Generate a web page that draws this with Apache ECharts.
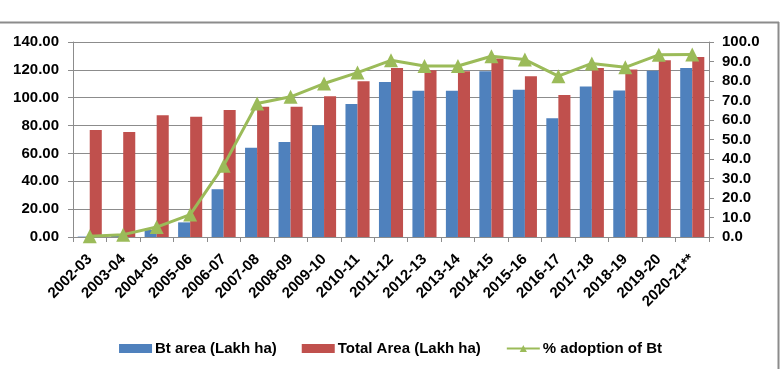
<!DOCTYPE html>
<html>
<head>
<meta charset="utf-8">
<script src="https://cdn.jsdelivr.net/npm/echarts@6/dist/echarts.min.js"></script>
<style>html,body{margin:0;padding:0;background:#fff;}#c{width:781px;height:369px;}</style>
</head>
<body>
<div id="c"></div>
<script>
const categories = ['2002-03','2003-04','2004-05','2005-06','2006-07','2007-08','2008-09','2009-10','2010-11','2011-12','2012-13','2013-14','2014-15','2015-16','2016-17','2017-18','2018-19','2019-20','2020-21**'];
const btArea = [0.3, 0.9, 5.0, 10.5, 34.3, 64.1, 68.2, 80.2, 95.4, 111.2, 105.0, 105.0, 119.0, 105.7, 85.2, 108.1, 105.2, 119.3, 121.4];
const totalArea = [76.8, 75.4, 87.5, 86.3, 91.1, 93.5, 93.5, 101.1, 111.9, 121.4, 119.8, 119.0, 128.1, 115.5, 101.9, 121.4, 120.2, 126.9, 129.3];
const adoption = [0.4, 1.2, 5.1, 11.5, 36.6, 68.5, 71.9, 78.7, 84.3, 90.6, 87.7, 87.7, 92.7, 91.0, 82.5, 89.0, 87.0, 93.4, 93.6];
const leftTicks = {min: 0, max: 140, interval: 20};
const rightTicks = {min: 0, max: 100, interval: 10};

const font = 'Liberation Sans, Arial, sans-serif';
const chart = echarts.init(document.getElementById('c'), null, {renderer: 'canvas'});
chart.setOption({
  animation: false,
  backgroundColor: '#fff',
  graphic: [
    {type: 'line', shape: {x1: 0, y1: 22.5, x2: 779, y2: 22.5}, style: {stroke: '#8c8c8c', lineWidth: 2}},
    {type: 'line', shape: {x1: 778.5, y1: 22, x2: 778.5, y2: 369}, style: {stroke: '#8c8c8c', lineWidth: 2}}
  ],
  grid: {left: 73, right: 72, top: 42, bottom: 132, containLabel: false},
  legend: {
    bottom: 8, left: 'center',
    itemWidth: 33, itemHeight: 9, itemGap: 25,
    textStyle: {fontFamily: font, fontWeight: 'bold', fontSize: 15, color: '#000', padding: [0,0,0,-2]},
    data: [
      {name: 'Bt area (Lakh ha)', icon: 'rect'},
      {name: 'Total Area (Lakh ha)', icon: 'rect'},
      {name: '% adoption of Bt'}
    ]
  },
  xAxis: {
    type: 'category', data: categories,
    axisLine: {lineStyle: {color: '#8c8c8c', width: 1}},
    axisTick: {show: true, length: 5, lineStyle: {color: '#8c8c8c'}},
    axisLabel: {rotate: 45, interval: 0, margin: 20, fontFamily: font, fontWeight: 'bold', fontSize: 15, color: '#000'}
  },
  yAxis: [
    {
      type: 'value', min: leftTicks.min, max: leftTicks.max, interval: leftTicks.interval,
      axisLine: {show: true, lineStyle: {color: '#8c8c8c'}},
      axisTick: {show: true, length: 5, lineStyle: {color: '#8c8c8c'}},
      splitLine: {lineStyle: {color: '#8c8c8c', width: 1}},
      axisLabel: {formatter: v => v.toFixed(2), margin: 14, fontFamily: font, fontWeight: 'bold', fontSize: 15, color: '#000'}
    },
    {
      type: 'value', min: rightTicks.min, max: rightTicks.max, interval: rightTicks.interval,
      position: 'right',
      axisLine: {show: true, lineStyle: {color: '#8c8c8c'}},
      axisTick: {show: true, length: 5, lineStyle: {color: '#8c8c8c'}},
      splitLine: {show: false},
      axisLabel: {formatter: v => v.toFixed(1), margin: 13, fontFamily: font, fontWeight: 'bold', fontSize: 15, color: '#000'}
    }
  ],
  series: [
    {name: 'Bt area (Lakh ha)', type: 'bar', data: btArea, barGap: '0%', barCategoryGap: '28%', itemStyle: {color: '#4F81BD'}},
    {name: 'Total Area (Lakh ha)', type: 'bar', data: totalArea, itemStyle: {color: '#C0504D'}},
    {name: '% adoption of Bt', type: 'line', yAxisIndex: 1, data: adoption,
     symbol: 'triangle', symbolSize: 14, lineStyle: {color: '#9BBB59', width: 3},
     itemStyle: {color: '#9BBB59'}}
  ]
});
</script>
</body>
</html>
